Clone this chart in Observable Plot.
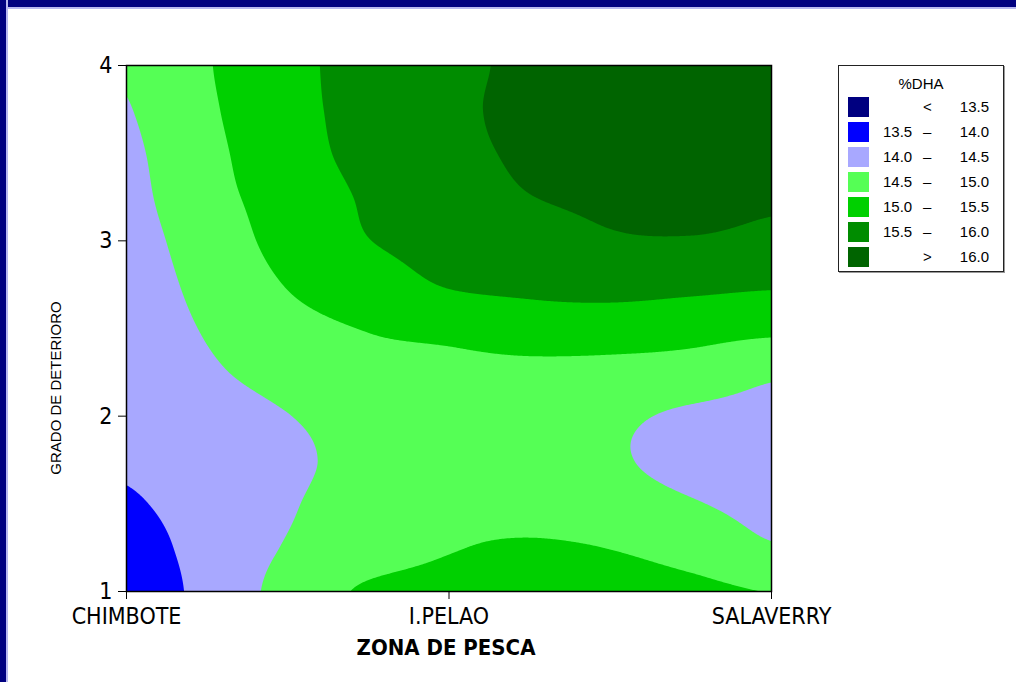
<!DOCTYPE html>
<html>
<head>
<meta charset="utf-8">
<script src="https://cdn.jsdelivr.net/npm/d3@7"></script>
<script src="https://cdn.jsdelivr.net/npm/@observablehq/plot@0.6"></script>
<style>
  body { margin: 0; background: #fff; }
  #wrap { position: relative; width: 1016px; height: 682px; overflow: hidden; background: #fff;
          font-family: "DejaVu Sans Condensed", "Liberation Sans", sans-serif; }
  #bTop { position: absolute; left: 0; top: 0; width: 1016px; height: 7px; background: #000080; border-bottom: 2px solid #b8b8f0; }
  #bLeft { position: absolute; left: 0; top: 0; width: 6px; height: 682px; background: #000080; border-right: 2px solid #b8b8f0; }
  #chart { position: absolute; left: 0; top: 0; }
  #ylab { position: absolute; left: 55px; top: 388px; transform: translate(-50%, -50%) rotate(-90deg);
          font-family: "Liberation Sans", sans-serif; font-size: 15px; white-space: nowrap; color: #000; }
  #xlab { position: absolute; left: 446px; top: 647px; transform: translate(-50%, -50%);
          font-size: 22px; font-weight: bold; white-space: nowrap; color: #000; }
  #legend { position: absolute; left: 838px; top: 65px; width: 164px; height: 205px;
            border: 1px solid #222; box-shadow: 1px 1px 0 #999; background: #fff;
            font-family: "Liberation Sans", sans-serif; font-size: 15px; color: #000; }
  #legend .title { position: absolute; left: 0; width: 164px; top: 9px; text-align: center; }
  #legend .sw { position: absolute; left: 9px; width: 21px; height: 20px; }
  #legend .lo { position: absolute; left: 44px; }
  #legend .dash { position: absolute; left: 84px; }
  #legend .hi { position: absolute; right: 14px; }
</style>
</head>
<body>
<div id="wrap">
  <div id="chart"></div>
  <div id="bTop"></div>
  <div id="bLeft"></div>
  <div id="ylab">GRADO DE DETERIORO</div>
  <div id="xlab">ZONA DE PESCA</div>
  <div id="legend"></div>
</div>
<script>
// ---- data ----
const zonas = ["CHIMBOTE", "I.PELAO", "SALAVERRY"];
const zonaPos = [1, 2, 3];
const grados = [1, 2, 3, 4];
// sample positions of the %DHA grid (zona axis, grado axis)
const gridZona = [1, 1.25, 1.5, 1.75, 2, 2.25, 2.5, 2.75, 3];
const gridGrado = [1, 1.25, 1.5, 1.75, 2, 2.25, 2.5, 2.75, 3, 3.25, 3.5, 3.75, 4];
// %DHA values: one row per grado sample (bottom to top), one column per zona sample (left to right)
const dhaG100 = [13.65, 14.16, 14.66, 15.07, 15.18, 15.25, 15.17, 15.10, 14.99];
const dhaG125 = [13.79, 14.18, 14.53, 14.74, 14.97, 15.05, 14.99, 14.82, 14.54];
const dhaG150 = [13.95, 14.20, 14.46, 14.70, 14.85, 14.84, 14.68, 14.53, 14.38];
const dhaG175 = [14.05, 14.23, 14.42, 14.63, 14.76, 14.76, 14.55, 14.40, 14.30];
const dhaG200 = [14.09, 14.29, 14.49, 14.68, 14.84, 14.80, 14.60, 14.43, 14.38];
const dhaG225 = [14.14, 14.43, 14.67, 14.85, 14.88, 14.88, 14.85, 14.78, 14.57];
const dhaG250 = [14.20, 14.54, 14.85, 15.02, 15.12, 15.26, 15.25, 15.19, 15.11];
const dhaG275 = [14.25, 14.65, 15.02, 15.27, 15.53, 15.60, 15.66, 15.61, 15.55];
const dhaG300 = [14.31, 14.75, 15.15, 15.49, 15.66, 15.78, 15.95, 15.97, 15.90];
const dhaG325 = [14.37, 14.85, 15.19, 15.56, 15.77, 15.99, 16.09, 16.15, 16.07];
const dhaG350 = [14.42, 14.88, 15.29, 15.65, 15.86, 16.08, 16.17, 16.28, 16.30];
const dhaG375 = [14.48, 14.93, 15.35, 15.66, 15.89, 16.13, 16.18, 16.30, 16.35];
const dhaG400 = [14.54, 14.97, 15.38, 15.65, 15.87, 16.10, 16.15, 16.25, 16.35];
const thresholds = [13.5, 14.0, 14.5, 15.0, 15.5, 16.0];
const bandColors = ["#000080", "#0000ff", "#a8a8ff", "#55ff55", "#00d000", "#008c00", "#006400"];
const bandLo = ["", "13.5", "14.0", "14.5", "15.0", "15.5", ""];
const bandMid = ["<", "\u2013", "\u2013", "\u2013", "\u2013", "\u2013", ">"];
const bandHi = ["13.5", "14.0", "14.5", "15.0", "15.5", "16.0", "16.0"];

// ---- build sample table ----
const rows = [dhaG100, dhaG125, dhaG150, dhaG175, dhaG200, dhaG225, dhaG250, dhaG275, dhaG300, dhaG325, dhaG350, dhaG375, dhaG400];
const nW = gridZona.length, nH = gridGrado.length;
const samples = [];
rows.forEach((row, j) => row.forEach((v, i) => samples.push({ zona: gridZona[i], grado: gridGrado[j], dha: v, i, j })));

// smooth (Catmull-Rom bicubic) surface through the samples, used as the contour interpolator
function cubic(p0, p1, p2, p3, t) {
  return p1 + 0.5 * t * (p2 - p0 + t * (2 * p0 - 5 * p1 + 4 * p2 - p3 + t * (3 * (p1 - p2) + p3 - p0)));
}
function cell(i, j) {
  i = Math.max(0, Math.min(nW - 1, i));
  j = Math.max(0, Math.min(nH - 1, j));
  return rows[j][i];
}
function bicubic(index, width, height, X, Y, V) {
  // calibrate raster coordinates against the first and last sample
  const a = index[0], b = index[index.length - 1];
  const sa = samples[a], sb = samples[b];
  const kx = (X[b] - X[a]) / (sb.i - sa.i), ky = (Y[b] - Y[a]) / (sb.j - sa.j);
  const out = new Float64Array(width * height);
  for (let py = 0; py < height; ++py) {
    let v = (py + 0.5 - Y[a]) / ky + sa.j;
    v = Math.max(0, Math.min(nH - 1, v));
    const j = Math.min(nH - 2, Math.floor(v)); const tv = v - j;
    for (let px = 0; px < width; ++px) {
      let u = (px + 0.5 - X[a]) / kx + sa.i;
      u = Math.max(0, Math.min(nW - 1, u));
      const i = Math.min(nW - 2, Math.floor(u)); const tu = u - i;
      const c = [];
      for (let m = -1; m <= 2; ++m) {
        c.push(cubic(cell(i - 1, j + m), cell(i, j + m), cell(i + 1, j + m), cell(i + 2, j + m), tu));
      }
      out[py * width + px] = cubic(c[0], c[1], c[2], c[3], tv);
    }
  }
  return out;
}

const chart = Plot.plot({
  width: 1016,
  height: 682,
  marginLeft: 126,
  marginRight: 245,
  marginTop: 65,
  marginBottom: 91,
  style: { fontFamily: '"DejaVu Sans Condensed", "Liberation Sans", sans-serif', fontSize: "23px", color: "#000", background: "transparent" },
  x: { domain: [1, 3], ticks: zonaPos, tickFormat: d => zonas[d - 1], tickSize: 8, tickPadding: 8, label: null },
  y: { domain: [1, 4], ticks: grados, tickFormat: d => String(d), tickSize: 8, tickPadding: 6, label: null },
  color: { type: "threshold", domain: thresholds, range: bandColors },
  marks: [
    Plot.contour(samples, {
      x: "zona", y: "grado", fill: "dha",
      interpolate: bicubic,
      pixelSize: 1,
      thresholds: thresholds,
      clip: true
    }),
    Plot.frame({ stroke: "#000", strokeWidth: 1.5 })
  ]
});
document.getElementById("chart").appendChild(chart);

// ---- legend ----
const lg = document.getElementById("legend");
let html = '<div class="title">%DHA</div>';
bandColors.forEach((c, i) => {
  const top = 31 + i * 25;
  html += `<div class="sw" style="top:${top}px;background:${c}"></div>`;
  html += `<div class="lo" style="top:${top + 1}px">${bandLo[i]}</div>`;
  html += `<div class="dash" style="top:${top + 1}px">${bandMid[i]}</div>`;
  html += `<div class="hi" style="top:${top + 1}px">${bandHi[i]}</div>`;
});
lg.innerHTML = html;
</script>
</body>
</html>
